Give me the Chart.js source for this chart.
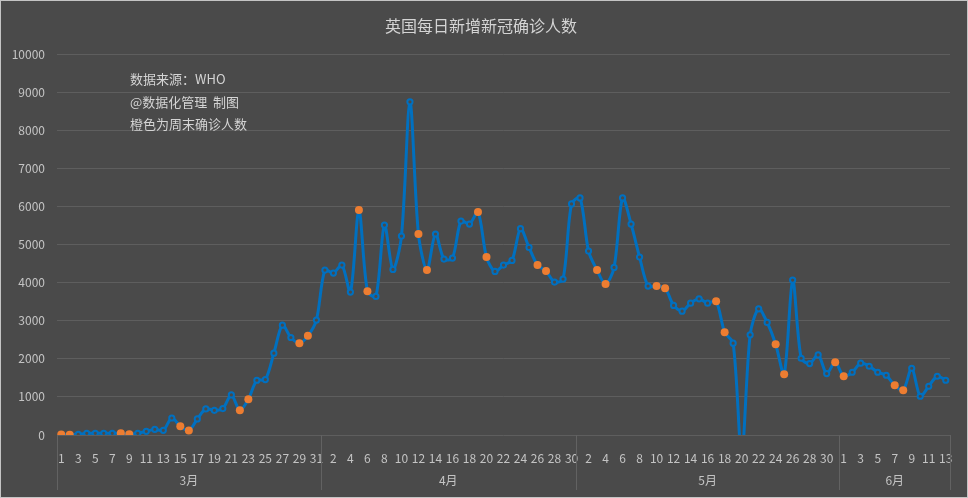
<!DOCTYPE html>
<html>
<head>
<meta charset="utf-8">
<title>英国每日新增新冠确诊人数</title>
<script src="https://cdn.jsdelivr.net/npm/chart.js@4/dist/chart.umd.min.js"></script>
<style>
  html, body { margin: 0; padding: 0; background: #4a4a4a; }
  #wrap { position: relative; width: 968px; height: 498px; }
  #wrap::after {
    content: ''; position: absolute; left: 0; top: 0; right: 0; bottom: 0;
    border: 1px solid #c4c4c4; pointer-events: none;
  }
  canvas { display: block; }
</style>
</head>
<body>
<div id="wrap"><canvas id="chart" width="968" height="498"></canvas></div>
<script>
// UK daily new cases, 1 Mar - 13 Jun
const months = ['3月', '4月', '5月', '6月'];
const monthDays = [31, 30, 31, 13];
const marchCases = [12, 4, 18, 44, 44, 44, 44, 44, 20, 44, 97, 149, 123, 447, 228, 118,
  421, 684, 649, 693, 1052, 649, 938, 1438, 1455, 2149, 2885, 2560, 2412, 2604, 3017];
const aprilCases = [4331, 4252, 4462, 3752, 5909, 3778, 3638, 5514, 4348, 5225,
  8749, 5278, 4331, 5278, 4620, 4646, 5619, 5540, 5856, 4672,
  4296, 4462, 4584, 5418, 4927, 4462, 4305, 4016, 4095, 6067];
const mayCases = [6225, 4831, 4331, 3963, 4400, 6225, 5540, 4673, 3910, 3910,
  3857, 3402, 3252, 3463, 3577, 3463, 3515, 2700, 2411, -525,
  2630, 3314, 2955, 2385, 1595, 4068, 2016, 1876, 2104, 1613, 1911];
const juneCases = [1543, 1648, 1885, 1806, 1648, 1569, 1306, 1175, 1753, 1017, 1280, 1543, 1438];
const notes = ['数据来源：WHO', '@数据化管理  制图', '橙色为周末确诊人数'];

const cases = marchCases.concat(aprilCases, mayCases, juneCases);

// day labels + weekend flags (reports for Sat/Sun land on Sun/Mon)
const dayLabels = [];
const weekend = [];
const monthStart = [];
monthDays.forEach((n, m) => {
  monthStart.push(dayLabels.length);
  for (let d = 1; d <= n; d++) {
    dayLabels.push(String(d));
    const wd = new Date(2020, 2 + m, d).getDay();
    weekend.push(wd === 0 || wd === 1);
  }
});

const BG = '#4a4a4a';
const BLUE = '#0070c0';
const ORANGE = '#ed7d31';
const GRID = '#5e5e5e';
const TEXT = '#c4c4c4';

Chart.defaults.font.family = '"Noto Sans CJK SC", "Noto Sans", sans-serif';

const monthAxis = {
  id: 'monthAxis',
  afterDraw(chart) {
    const { ctx, chartArea } = chart;
    const x = chart.scales.x;
    const half = (x.getPixelForValue(1) - x.getPixelForValue(0)) / 2;
    ctx.save();
    ctx.strokeStyle = '#626262';
    ctx.lineWidth = 1;
    ctx.fillStyle = TEXT;
    ctx.font = '12px "Noto Sans CJK SC"';
    ctx.textAlign = 'center';
    ctx.textBaseline = 'middle';
    monthStart.forEach((s, m) => {
      const left = x.getPixelForValue(s) - half;
      const right = x.getPixelForValue(s + monthDays[m] - 1) + half;
      [left, right].forEach(px => {
        const p = Math.round(px) + 0.5;
        ctx.beginPath();
        ctx.moveTo(p, chartArea.bottom);
        ctx.lineTo(p, chartArea.bottom + 55);
        ctx.stroke();
      });
      ctx.fillText(months[m], (left + right) / 2, chartArea.bottom + 45);
    });
    // source notes
    ctx.fillStyle = '#d4d4d4';
    ctx.font = '13px "Noto Sans CJK SC"';
    ctx.textAlign = 'left';
    notes.forEach((t, i) => ctx.fillText(t, chartArea.left + 73, chartArea.top + 25 + i * 22.5));
    ctx.restore();
  }
};

new Chart(document.getElementById('chart'), {
  type: 'line',
  data: {
    labels: dayLabels,
    datasets: [{
      data: cases,
      borderColor: BLUE,
      borderWidth: 3,
      tension: 0.3,
      pointRadius: weekend.map(w => w ? 4 : 2.6),
      pointBorderWidth: weekend.map(w => w ? 0 : 2),
      pointBackgroundColor: weekend.map(w => w ? ORANGE : BG),
      pointBorderColor: weekend.map(w => w ? ORANGE : BLUE)
    }]
  },
  options: {
    responsive: false,
    animation: false,
    layout: { padding: { left: 12, right: 18, top: 9, bottom: 8 } },
    plugins: {
      legend: { display: false },
      tooltip: { enabled: false },
      title: {
        display: true,
        text: '英国每日新增新冠确诊人数',
        color: '#d4d4d4',
        font: { size: 16, weight: 'normal' },
        padding: { top: 7, bottom: 19 }
      }
    },
    scales: {
      x: {
        offset: true,
        grid: { display: false },
        border: { display: false },
        ticks: {
          autoSkip: false,
          maxRotation: 0,
          minRotation: 0,
          color: TEXT,
          font: { size: 12 },
          padding: 8,
          callback: (v, i) => i % 2 === 0 ? dayLabels[i] : ''
        },
        afterFit: s => { s.height = 55; }
      },
      y: {
        min: 0,
        max: 10000,
        ticks: { stepSize: 1000, color: TEXT, font: { size: 12 }, padding: 12, callback: v => String(v) },
        grid: { color: GRID, drawTicks: false },
        border: { display: false },
        afterFit: s => { s.width = 45; }
      }
    }
  },
  plugins: [monthAxis]
});
</script>
</body>
</html>
